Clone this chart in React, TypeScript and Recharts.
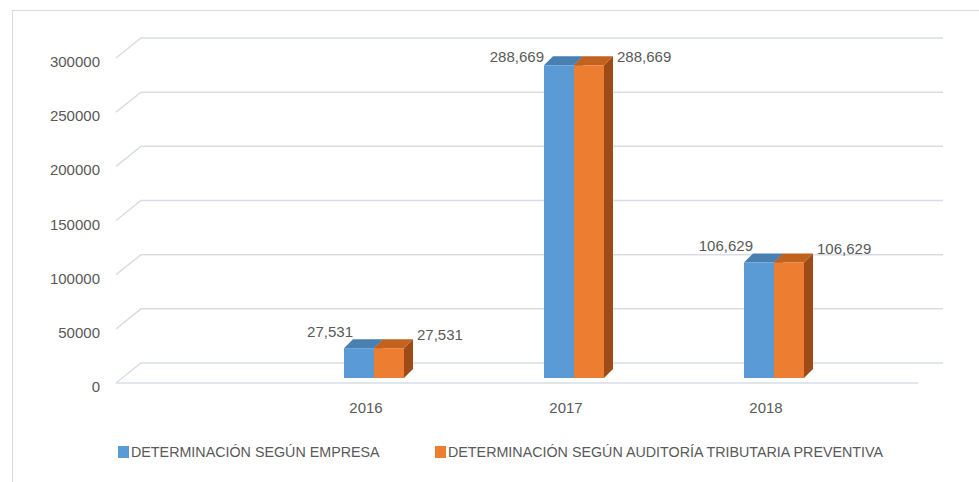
import { BarChart, Bar, XAxis, YAxis, CartesianGrid, Legend, LabelList } from 'recharts';

const years = ['2016', '2017', '2018'];
const empresa = [27531, 288669, 106629];
const auditoria = [27531, 288669, 106629];
const yTicks = [0, 50000, 100000, 150000, 200000, 250000, 300000];

const SERIES_EMPRESA = 'DETERMINACIÓN SEGÚN EMPRESA';
const SERIES_AUDITORIA = 'DETERMINACIÓN SEGÚN AUDITORÍA TRIBUTARIA PREVENTIVA';

const data = years.map((year, i) => ({ year, empresa: empresa[i], auditoria: auditoria[i] }));

const FONT = '"Liberation Sans", Arial, sans-serif';
const TEXT = '#595959';
const GRID = '#d9dde3';
const MARGIN = { top: 58, right: 61, bottom: 0, left: 0 };
// wall depth (grid) and bar depth
const WALL_X = 25;
const WALL_Y = 20;
const BAR_X = 9;
const BAR_Y = 9;
// bars stand a little way back on the floor
const BAR_SINK = 5;

const BLUE = { front: '#5b9bd5', top: '#4a7fb2', side: '#3f6e9b' };
const ORANGE = { front: '#ed7d31', top: '#c2621f', side: '#9e4b17' };

const fmt = (v: number) => v.toLocaleString('en-US');

function Box3D(props: any, c: { front: string; top: string; side: string }) {
  const { x, width: w, height: h } = props;
  if (!h || h <= 0) return <g />;
  const y = props.y - BAR_SINK;
  const top = `M${x},${y} L${x + BAR_X},${y - BAR_Y} L${x + w + BAR_X},${y - BAR_Y} L${x + w},${y} Z`;
  const side = `M${x + w},${y} L${x + w + BAR_X},${y - BAR_Y} L${x + w + BAR_X},${y + h - BAR_Y} L${x + w},${y + h} Z`;
  return (
    <g>
      <path d={side} fill={c.side} />
      <path d={top} fill={c.top} />
      <rect x={x} y={y} width={w} height={h} fill={c.front} />
    </g>
  );
}

function gridLine(p: any) {
  const { x1, x2, y1, index } = p;
  const d = `M${x1},${y1} L${x1 + WALL_X},${y1 - WALL_Y} L${x2 + WALL_X},${y1 - WALL_Y}`;
  const floor = Math.abs(y1 - (p.offset ? p.offset.top + p.offset.height : -1)) < 1 || index === 0;
  return (
    <g key={`g-${index}`}>
      <path d={d} fill="none" stroke={GRID} strokeWidth={1.5} />
      {floor && <line x1={x1} y1={y1} x2={x2} y2={y1} stroke={GRID} strokeWidth={1.5} />}
    </g>
  );
}

function leftLabel(p: any) {
  const { x, value } = p;
  const y = p.y - BAR_SINK;
  const clamped = y - 16 < MARGIN.top - 1;
  const cy = clamped ? MARGIN.top - 1 : y - 16;
  return (
    <text x={clamped ? x : x + 9} y={cy} dy={5} textAnchor="end" fill={TEXT} fontSize={15} fontFamily={FONT}>
      {fmt(value)}
    </text>
  );
}

function rightLabel(p: any) {
  const { x, width, value } = p;
  const y = p.y - BAR_SINK;
  const cy = Math.max(y - 13, MARGIN.top - 1);
  return (
    <text x={x + width + 13} y={cy} dy={5} textAnchor="start" fill={TEXT} fontSize={15} fontFamily={FONT}>
      {fmt(value)}
    </text>
  );
}

function yTick(p: any) {
  return (
    <text x={p.x} y={p.y} dy={9} textAnchor="end" fill={TEXT} fontSize={15} fontFamily={FONT}>
      {p.payload.value}
    </text>
  );
}

function xTick(p: any) {
  return (
    <text x={p.x - 8} y={p.y} dy={30} textAnchor="middle" fill={TEXT} fontSize={15} fontFamily={FONT}>
      {p.payload.value}
    </text>
  );
}

function LegendBox() {
  const items = [
    { name: SERIES_EMPRESA, color: BLUE.front, left: 118 },
    { name: SERIES_AUDITORIA, color: ORANGE.front, left: 435 },
  ];
  return (
    <div style={{ position: 'relative', height: 24, fontFamily: FONT, fontSize: 14.3, color: TEXT }}>
      {items.map((it) => (
        <div key={it.name} style={{ position: 'absolute', left: it.left, top: 0, display: 'flex', alignItems: 'center', whiteSpace: 'nowrap' }}>
          <span style={{ display: 'inline-block', width: 11, height: 12, background: it.color, marginRight: 2 }} />
          <span>{it.name}</span>
        </div>
      ))}
    </div>
  );
}

export default function App() {
  return (
    <div style={{ position: 'absolute', left: 0, top: 0, width: 979, height: 482, background: '#fff', overflow: 'hidden' }}>
      <div style={{ position: 'absolute', left: 12, top: 10, width: 967, height: 472, borderTop: '1px solid #d9d9d9', borderLeft: '1px solid #d9d9d9' }} />
      <BarChart width={979} height={482} data={data} margin={MARGIN} barGap={0} barSize={30}>
        <CartesianGrid vertical={false} horizontal={gridLine} />
        <XAxis
          dataKey="year"
          height={99}
          padding={{ left: 158, right: 44 }}
          axisLine={false}
          tickLine={false}
          tickSize={0}
          tickMargin={0}
          tick={xTick}
        />
        <YAxis
          width={116}
          domain={[0, 300000]}
          ticks={yTicks}
          axisLine={false}
          tickLine={false}
          tickSize={0}
          tickMargin={16}
          tick={yTick}
        />
        <Legend verticalAlign="middle" align="center" layout="horizontal" wrapperStyle={{ top: 444, left: 0, width: 979 }} content={() => <LegendBox />} />
        <Bar dataKey="empresa" name={SERIES_EMPRESA} fill={BLUE.front} isAnimationActive={false} shape={(p: any) => Box3D(p, BLUE)}>
          <LabelList dataKey="empresa" content={leftLabel} />
        </Bar>
        <Bar dataKey="auditoria" name={SERIES_AUDITORIA} fill={ORANGE.front} isAnimationActive={false} shape={(p: any) => Box3D(p, ORANGE)}>
          <LabelList dataKey="auditoria" content={rightLabel} />
        </Bar>
      </BarChart>
    </div>
  );
}
